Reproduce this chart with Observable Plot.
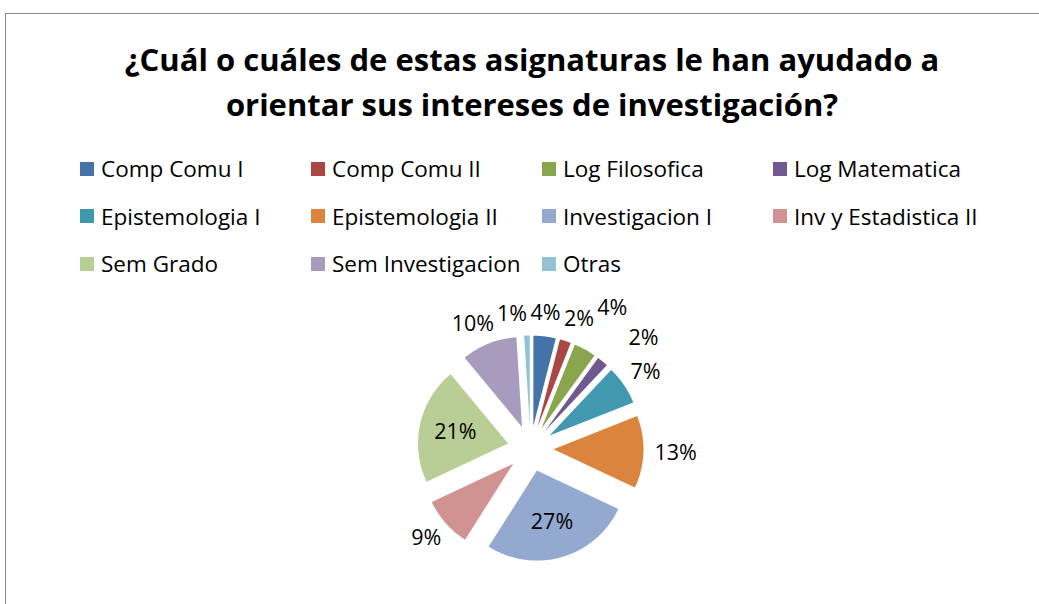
<!DOCTYPE html>
<html>
<head>
<meta charset="utf-8">
<script src="https://cdn.jsdelivr.net/npm/d3@7"></script>
<script src="https://cdn.jsdelivr.net/npm/@observablehq/plot@0.6"></script>
<style>
  body { margin: 0; background: #fff; font-family: "Open Sans", Lato, sans-serif; color: #000; }
  #frame { position: absolute; left: 5px; top: 13px; width: 1100px; height: 700px; border: 1.5px solid #8a8a8a; box-sizing: border-box; }
  #title { position: absolute; left: 0; top: 37px; width: 1064px; text-align: center; font-weight: 700; font-size: 31px; line-height: 45px; }
  #legend { position: absolute; left: 80px; top: 145px; display: grid; grid-template-columns: repeat(4, 231px); grid-auto-rows: 47.5px; font-size: 22.5px; }
  .item { display: flex; align-items: center; white-space: nowrap; }
  .sw { width: 14px; height: 14px; margin-right: 7px; flex: none; }
  #chart { position: absolute; left: 0; top: 290px; }
</style>
</head>
<body>
<div id="frame"></div>
<div id="title">¿Cuál o cuáles de estas asignaturas le han ayudado a<br>orientar sus intereses de investigación?</div>
<div id="legend"></div>
<div id="chart"></div>
<script>
const categories = ["Comp Comu I", "Comp Comu II", "Log Filosofica", "Log Matematica", "Epistemologia I", "Epistemologia II", "Investigacion I", "Inv y Estadistica II", "Sem Grado", "Sem Investigacion", "Otras"];
const percents = [4, 2, 4, 2, 7, 13, 27, 9, 21, 10, 1];
const colors = ["#4572A7", "#AA4643", "#89A54E", "#71588F", "#4198AF", "#DB843D", "#93A9CF", "#D19392", "#B9CD96", "#A99BBD", "#92C3D5"];

const W = 1039, H = 314;
const R = 90, EXPLODE = 23;
const cx0 = 530, cyTop = 158; // pie centre in svg pixels

const total = d3.sum(percents);
const toRad = Math.PI / 180;

let cum = 0;
const slices = categories.map((name, i) => {
  const a0 = cum / total * 360;
  cum += percents[i];
  const a1 = cum / total * 360;
  return { name, value: percents[i], a0, a1, m: (a0 + a1) / 2 };
});

const slicePts = [];
for (const s of slices) {
  const ax = EXPLODE * Math.sin(s.m * toRad), ay = EXPLODE * Math.cos(s.m * toRad);
  slicePts.push({ name: s.name, x: ax, y: ay });
  const steps = Math.max(4, Math.ceil(s.a1 - s.a0));
  for (let k = 0; k <= steps; k++) {
    const a = (s.a0 + (s.a1 - s.a0) * k / steps) * toRad;
    slicePts.push({ name: s.name, x: ax + R * Math.sin(a), y: ay + R * Math.cos(a) });
  }
}

const FS = 21.5;
const ctx = document.createElement("canvas").getContext("2d");
ctx.font = `${FS}px "Open Sans"`;
const labels = slices.map(s => {
  const text = Math.round(s.value / total * 100) + "%";
  return { name: s.name, text, theta: ((s.m + 180) % 360) - 180, inside: s.value >= 20, w: ctx.measureText(text).width, h: FS * 1.1, extra: 0 };
});
function place(l) {
  const t = l.theta * toRad, dx = Math.sin(t), dy = Math.cos(t);
  if (l.inside) {
    const ax = EXPLODE * dx, ay = EXPLODE * dy;
    l.x = ax + 0.6 * R * dx; l.y = ay + 0.6 * R * dy;
  } else {
    const d = R + EXPLODE + 11 + l.extra;
    l.x = d * dx + dx * l.w / 2; l.y = d * dy + dy * l.h / 2;
  }
}
const outside = labels.filter(l => !l.inside).sort((a, b) => a.theta - b.theta);
labels.forEach(place);
function overlap(a, b) {
  return Math.abs(a.x - b.x) < (a.w + b.w) / 2 + 3 && Math.abs(a.y - b.y) < FS * 1.3;
}
for (let iter = 0; iter < 600; iter++) {
  let moved = false;
  for (let i = 0; i < outside.length; i++) {
    for (let j = i + 1; j < outside.length; j++) {
      const a = outside[i], b = outside[j];
      if (overlap(a, b)) {
        a.theta -= 0.2; b.theta += 0.2;
        // crowded labels on the right also step outward a little
        if (b.theta > 20 && b.theta < 45) b.extra += 0.8;
        place(a); place(b); moved = true;
      }
    }
  }
  if (!moved) break;
}

const plot = Plot.plot({
  width: W, height: H,
  margin: 0,
  x: { domain: [-cx0, W - cx0], axis: null },
  y: { domain: [-(H - cyTop), cyTop], axis: null },
  color: { domain: categories, range: colors },
  style: { fontFamily: "'Open Sans', sans-serif", background: "transparent" },
  marks: [
    Plot.line(slicePts, { x: "x", y: "y", z: "name", fill: "name", stroke: "none" }),
    Plot.text(labels, { x: "x", y: "y", text: "text", fontSize: FS, fill: "#000", textAnchor: "middle", lineAnchor: "middle" })
  ]
});
document.getElementById("chart").appendChild(plot);

const color = plot.scale("color");
const legend = document.getElementById("legend");
categories.forEach((c, i) => {
  const it = document.createElement("div");
  it.className = "item";
  it.innerHTML = `<span class="sw" style="background:${color.range[i]}"></span><span>${c}</span>`;
  legend.appendChild(it);
});
</script>
</body>
</html>
